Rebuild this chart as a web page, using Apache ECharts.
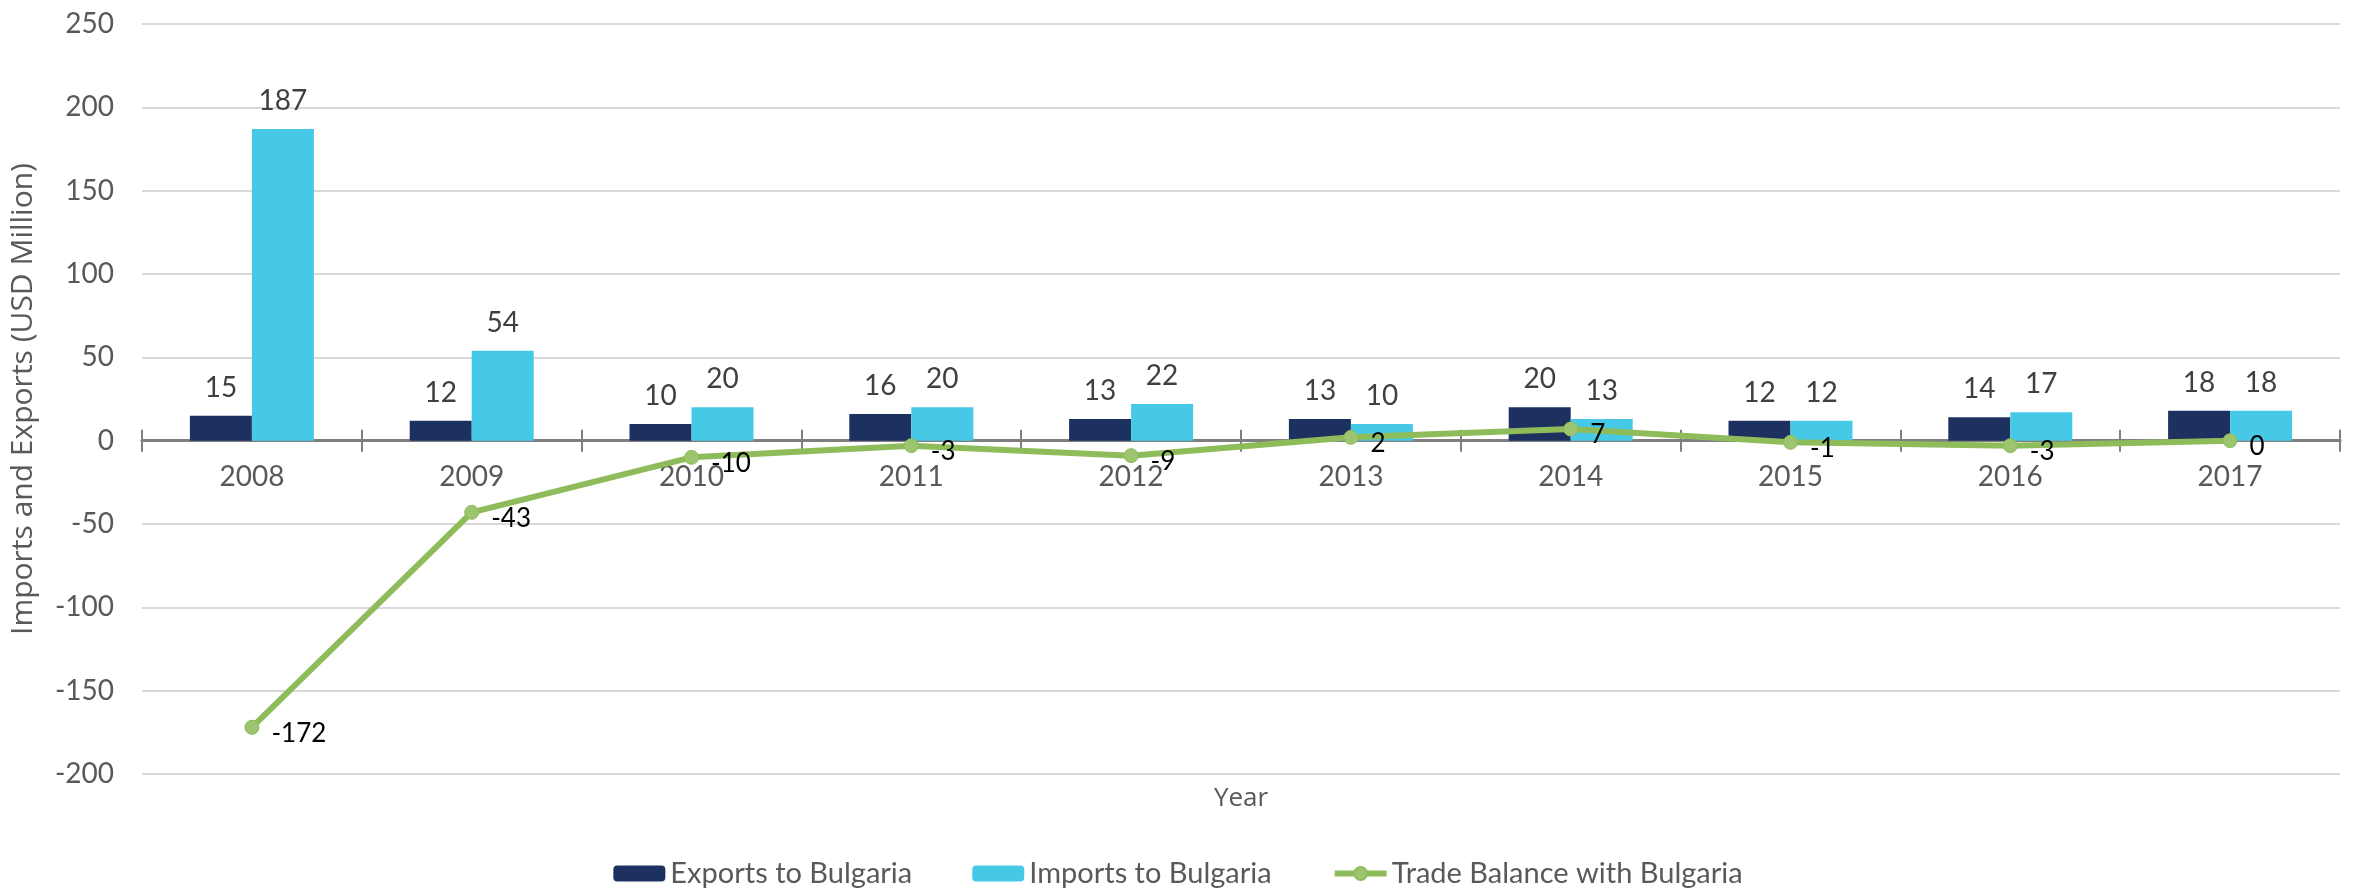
<!DOCTYPE html>
<html>
<head>
<meta charset="utf-8">
<script src="https://cdn.jsdelivr.net/npm/echarts@6/dist/echarts.min.js"></script>
<style>
  html, body { margin: 0; padding: 0; background: #fff; }
  #chart { width: 2356px; height: 891px; }
</style>
</head>
<body>
<div id="chart"></div>
<script>
var years = ['2008', '2009', '2010', '2011', '2012', '2013', '2014', '2015', '2016', '2017'];
var exportsData = [15, 12, 10, 16, 13, 13, 20, 12, 14, 18];
var importsData = [187, 54, 20, 20, 22, 10, 13, 12, 17, 18];
var balanceData = [-172, -43, -10, -3, -9, 2, 7, -1, -3, 0];
var yMin = -200, yMax = 250, yStep = 50;

var numFont = 'Lato';
var axisGrey = '#7f7f7f';
var lineGreen = '#8fbc5a';
var gridTop = 24, gridBottom = 117, chartH = 891;
// distance from the plot bottom up to the zero line (labels + upward ticks sit there)
var zeroOffset = -(0 - yMin) / (yMax - yMin) * (chartH - gridTop - gridBottom);

var myChart = echarts.init(document.getElementById('chart'));
myChart.setOption({
    backgroundColor: '#fff',
    animation: false,
    grid: { left: 139, right: 16, top: gridTop, bottom: gridBottom },
    legend: {
        top: 854,
        left: 'center',
        itemWidth: 52,
        itemHeight: 16,
        itemGap: 60,
        textStyle: { color: '#595959', fontSize: 29, fontFamily: numFont },
        data: [
            { name: 'Exports to Bulgaria' },
            { name: 'Imports to Bulgaria' },
            { name: 'Trade Balance with Bulgaria', lineStyle: { width: 6, color: lineGreen } }
        ]
    },
    xAxis: [{
        // zero line with ticks pointing down
        type: 'category',
        data: years,
        axisLine: { onZero: true, lineStyle: { color: axisGrey, width: 3 } },
        axisTick: { show: true, length: 11, lineStyle: { color: axisGrey, width: 2 } },
        axisLabel: { show: false },
        splitLine: { show: false }
    }, {
        // year labels and ticks pointing up, shifted to the zero line
        type: 'category',
        data: years,
        position: 'bottom',
        offset: zeroOffset,
        axisLine: { show: false, onZero: false },
        axisTick: { show: true, inside: true, length: 11, lineStyle: { color: axisGrey, width: 2 } },
        axisLabel: { color: '#595959', fontSize: 28, fontFamily: numFont, margin: 22 },
        splitLine: { show: false }
    }, {
        // carries the "Year" title under the plot
        type: 'category',
        data: years,
        position: 'bottom',
        name: 'Year',
        nameLocation: 'middle',
        nameGap: 12,
        nameTextStyle: { color: '#595959', fontSize: 26, fontFamily: 'Open Sans', verticalAlign: 'top' },
        axisLine: { show: false, onZero: false },
        axisTick: { show: false },
        axisLabel: { show: false },
        splitLine: { show: false }
    }],
    yAxis: {
        type: 'value',
        min: yMin,
        max: yMax,
        interval: yStep,
        name: 'Imports and Exports (USD Million)',
        nameLocation: 'middle',
        nameGap: 104,
        nameTextStyle: { color: '#595959', fontSize: 30, fontFamily: 'Open Sans' },
        axisLine: { show: false },
        axisTick: { show: false },
        axisLabel: { color: '#595959', fontSize: 28, fontFamily: numFont, margin: 28 },
        splitLine: { lineStyle: { color: '#d9d9d9', width: 2 } }
    },
    series: [{
        name: 'Exports to Bulgaria',
        type: 'bar',
        data: exportsData,
        barWidth: 62,
        barGap: '0%',
        itemStyle: { color: '#1c3160' },
        label: { show: true, position: 'top', distance: 14, color: '#404040', fontSize: 28, fontFamily: numFont }
    }, {
        name: 'Imports to Bulgaria',
        type: 'bar',
        data: importsData,
        barWidth: 62,
        barGap: '0%',
        itemStyle: { color: '#46c9e6' },
        label: { show: true, position: 'top', distance: 14, color: '#404040', fontSize: 28, fontFamily: numFont }
    }, {
        name: 'Trade Balance with Bulgaria',
        type: 'line',
        data: balanceData,
        z: 5,
        symbol: 'circle',
        symbolSize: 14,
        lineStyle: { color: lineGreen, width: 6 },
        itemStyle: { color: '#9dc56f', borderColor: lineGreen, borderWidth: 1 },
        label: { show: true, position: 'right', distance: 12, offset: [0, 6], color: '#000', fontSize: 26, fontFamily: numFont }
    }]
});
</script>
</body>
</html>
